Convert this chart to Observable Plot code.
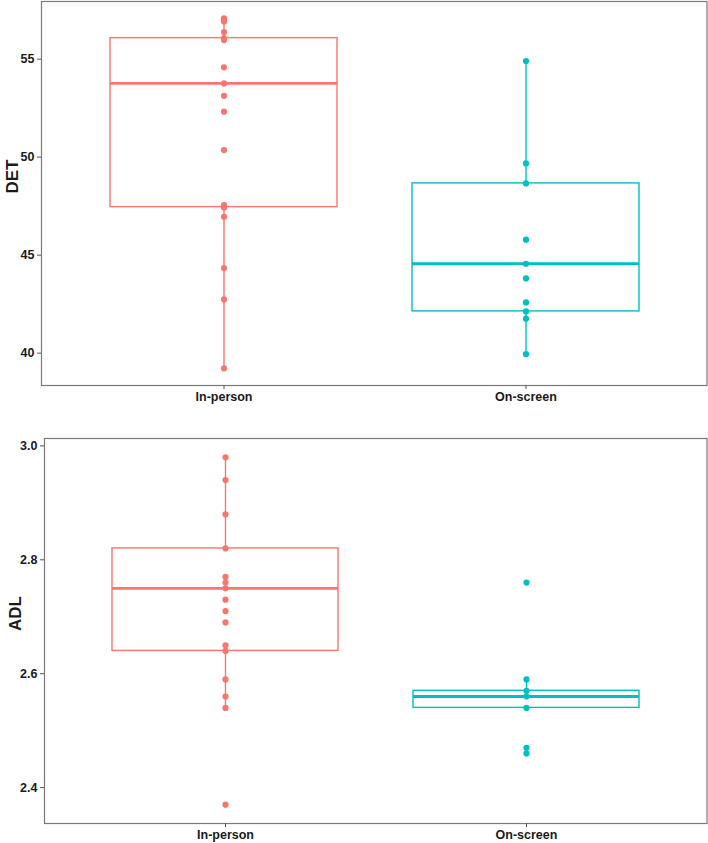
<!DOCTYPE html>
<html>
<head>
<meta charset="utf-8">
<script src="https://cdn.jsdelivr.net/npm/d3@7"></script>
<script src="https://cdn.jsdelivr.net/npm/@observablehq/plot@0.6"></script>
<style>
  html, body { margin: 0; padding: 0; background: #fff; }
  #chart svg { display: block; }
</style>
</head>
<body>
<div id="chart"></div>
<script>
// Groups shown on the x axis
const groups = ["In-person", "On-screen"];
const groupColors = ["#F8766D", "#00BFC4"];

// DET observations per group
const detInPerson = [57.08, 57.0, 56.92, 56.38, 56.07, 55.97, 54.58, 53.76, 53.13, 52.32, 50.36, 47.55, 47.43, 46.96, 44.34, 42.74, 39.22];
const detOnScreen = [54.90, 49.68, 48.66, 45.79, 44.56, 43.81, 42.59, 42.13, 41.76, 39.95];

// DET box summaries (In-person, On-screen)
const detLow = [39.22, 39.95];
const detQ1 = [47.45, 42.13];
const detMedian = [53.76, 44.56];
const detQ3 = [56.07, 48.66];
const detHigh = [57.08, 54.90];
const detTicks = [40, 45, 50, 55];

// ADL observations per group
const adlInPerson = [2.98, 2.94, 2.88, 2.82, 2.77, 2.76, 2.75, 2.73, 2.71, 2.69, 2.65, 2.64, 2.59, 2.56, 2.54, 2.37];
const adlOnScreen = [2.76, 2.59, 2.57, 2.56, 2.54, 2.47, 2.46];

// ADL box summaries (In-person, On-screen)
const adlLow = [2.54, 2.54];
const adlQ1 = [2.64, 2.54];
const adlMedian = [2.75, 2.56];
const adlQ3 = [2.82, 2.57];
const adlHigh = [2.98, 2.59];
const adlTicks = [2.4, 2.6, 2.8, 3.0];

function boxPanel({label, values, low, q1, median, q3, high, ticks, tickFormat, yDomain, height, margins}) {
  const points = groups.flatMap((g, i) => values[i].map(v => ({group: g, value: v})));
  const boxes = groups.map((g, i) => ({group: g, low: low[i], q1: q1[i], median: median[i], q3: q3[i], high: high[i]}));
  return Plot.plot({
    width: 708,
    height,
    ...margins,
    style: {fontFamily: "'Liberation Sans', Arial, sans-serif", fontSize: "12.5px", fontWeight: "bold", color: "#1a1a1a", background: "#fff"},
    x: {type: "band", domain: groups, paddingInner: 0.25, paddingOuter: 0.225, align: 0.5},
    y: {domain: yDomain},
    color: {domain: groups, range: groupColors},
    marks: [
      Plot.ruleX(boxes, {x: "group", y1: "low", y2: "q1", stroke: "group", strokeWidth: 1.4}),
      Plot.ruleX(boxes, {x: "group", y1: "q3", y2: "high", stroke: "group", strokeWidth: 1.4}),
      Plot.barY(boxes, {x: "group", y1: "q1", y2: "q3", fill: "none", stroke: "group", strokeWidth: 1.4}),
      Plot.tickY(boxes, {x: "group", y: "median", stroke: "group", strokeWidth: 2.8}),
      Plot.dot(points, {x: "group", y: "value", fill: "group", r: 3.1, stroke: null}),
      Plot.frame({stroke: "#7a7a7a", strokeWidth: 1.2}),
      Plot.axisY(ticks, {tickSize: 4, tickPadding: 3, stroke: "#555", tickFormat, label: null, fontSize: 12.5, fontWeight: "bold"}),
      Plot.axisX({tickSize: 4, tickPadding: 3, stroke: "#555", label: null, fontSize: 12.5, fontWeight: "bold"}),
      Plot.text([label], {frameAnchor: "left", dx: -29, rotate: -90, fontSize: 17, fontWeight: "bold", fill: "#1a1a1a", text: d => d})
    ]
  });
}

const chart = document.getElementById("chart");
chart.append(boxPanel({
  label: "DET",
  values: [detInPerson, detOnScreen],
  low: detLow, q1: detQ1, median: detMedian, q3: detQ3, high: detHigh,
  ticks: detTicks,
  tickFormat: d3.format("d"),
  yDomain: [38.35, 57.94],
  height: 420,
  margins: {marginTop: 1, marginBottom: 35, marginLeft: 41, marginRight: 1.5}
}));
chart.append(boxPanel({
  label: "ADL",
  values: [adlInPerson, adlOnScreen],
  low: adlLow, q1: adlQ1, median: adlMedian, q3: adlQ3, high: adlHigh,
  ticks: adlTicks,
  tickFormat: d3.format(".1f"),
  yDomain: [2.337, 3.013],
  height: 423,
  margins: {marginTop: 18, marginBottom: 20, marginLeft: 44, marginRight: 1.5}
}));
</script>
</body>
</html>
